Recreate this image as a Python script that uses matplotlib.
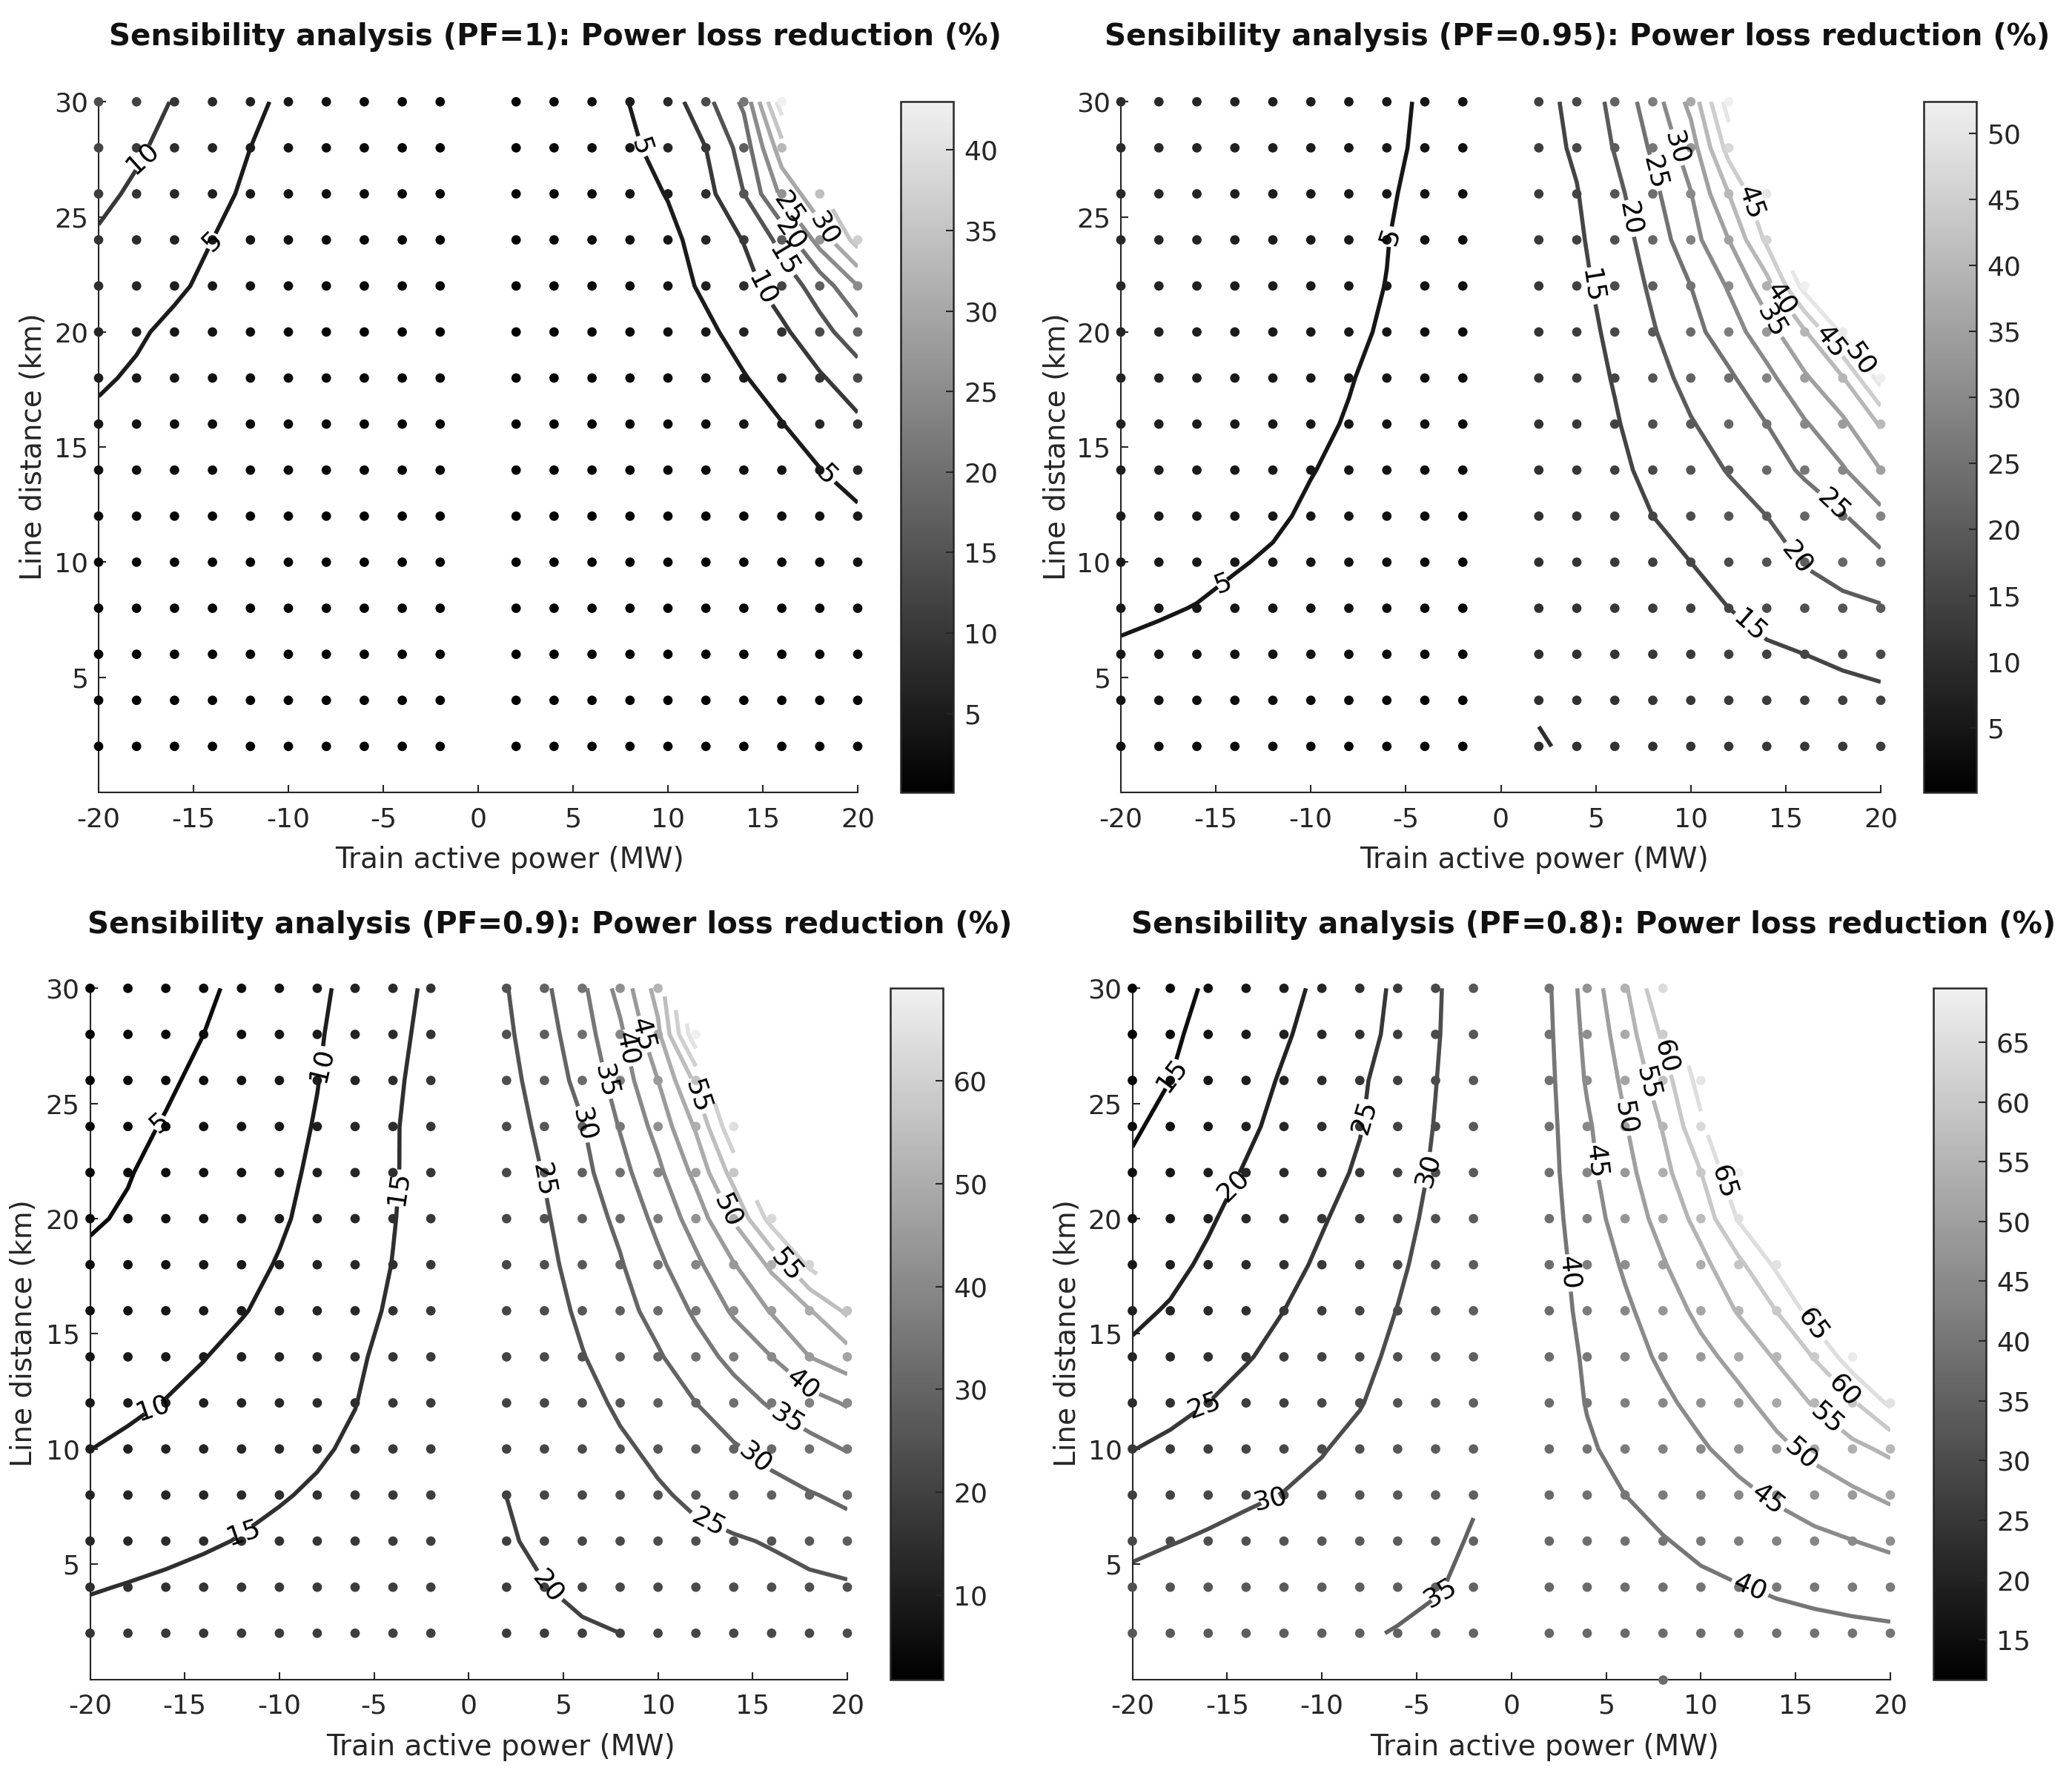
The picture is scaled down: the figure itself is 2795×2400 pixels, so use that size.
#!/usr/bin/env python3
"""
Sensibility analysis plots: power loss reduction (%) vs train power and line distance
for four power factors. Contours + sampled grid points, grey colormap.
"""

import numpy as np
import matplotlib
matplotlib.use('Agg')
import matplotlib.pyplot as plt
from matplotlib.colors import LinearSegmentedColormap, Normalize
from matplotlib.cm import ScalarMappable

nan = np.nan

# sweep grid (x = 0 is not simulated)
x_left = [-20, -18, -16, -14, -12, -10, -8, -6, -4, -2]
x_right = [2, 4, 6, 8, 10, 12, 14, 16, 18, 20]
distance = [2, 4, 6, 8, 10, 12, 14, 16, 18, 20, 22, 24, 26, 28, 30]

# rows follow `distance`, columns follow x_left / x_right
pf1_left = [
    [0.2, 0.1, 0.1, 0.1, 0.1, 0.1, 0.1, 0.1, 0.1, 0.1],
    [0.4, 0.3, 0.3, 0.2, 0.2, 0.1, 0.1, 0.1, 0.1, 0.1],
    [0.7, 0.6, 0.5, 0.4, 0.3, 0.2, 0.2, 0.1, 0.1, 0.1],
    [1.2, 1.0, 0.8, 0.6, 0.5, 0.4, 0.3, 0.2, 0.1, 0.1],
    [1.8, 1.5, 1.2, 0.9, 0.7, 0.5, 0.4, 0.3, 0.2, 0.1],
    [2.5, 2.1, 1.7, 1.3, 1.0, 0.7, 0.5, 0.4, 0.2, 0.1],
    [3.4, 2.9, 2.3, 1.8, 1.4, 1.0, 0.7, 0.5, 0.3, 0.2],
    [4.4, 3.7, 3.0, 2.4, 1.8, 1.3, 0.9, 0.6, 0.4, 0.2],
    [5.4, 4.6, 3.8, 3.0, 2.3, 1.7, 1.2, 0.8, 0.5, 0.3],
    [6.8, 5.4, 4.3, 3.4, 2.7, 2.0, 1.4, 0.9, 0.6, 0.3],
    [8.2, 6.8, 5.5, 4.3, 3.3, 2.4, 1.7, 1.1, 0.7, 0.4],
    [9.5, 8.0, 6.4, 5.0, 3.8, 2.8, 1.9, 1.3, 0.8, 0.4],
    [11.0, 9.3, 7.5, 5.9, 4.4, 3.2, 2.2, 1.5, 1.0, 0.5],
    [12.5, 10.6, 8.6, 6.8, 5.0, 3.6, 2.5, 1.7, 1.1, 0.6],
    [14.0, 12.0, 9.7, 7.8, 5.8, 4.2, 3.0, 2.0, 1.3, 0.7],
]
pf1_right = [
    [0.1, 0.1, 0.1, 0.1, 0.1, 0.1, 0.1, 0.2, 0.2, 0.3],
    [0.1, 0.1, 0.1, 0.1, 0.2, 0.2, 0.3, 0.4, 0.5, 0.6],
    [0.1, 0.1, 0.1, 0.2, 0.3, 0.4, 0.5, 0.6, 0.8, 1.1],
    [0.1, 0.1, 0.2, 0.3, 0.4, 0.6, 0.8, 1.1, 1.4, 1.8],
    [0.1, 0.2, 0.3, 0.5, 0.7, 0.9, 1.3, 1.7, 2.2, 2.8],
    [0.2, 0.3, 0.5, 0.7, 1.0, 1.4, 1.9, 2.6, 3.4, 4.3],
    [0.2, 0.4, 0.7, 1.0, 1.4, 2.0, 2.7, 3.6, 4.9, 6.7],
    [0.3, 0.6, 0.9, 1.3, 1.9, 2.6, 3.6, 4.9, 6.8, 9.0],
    [0.4, 0.7, 1.1, 1.7, 2.4, 3.4, 4.8, 6.6, 9.4, 13.0],
    [0.5, 0.9, 1.4, 2.1, 3.0, 4.3, 6.3, 9.0, 13.5, 17.5],
    [0.6, 1.1, 1.7, 2.5, 3.6, 5.6, 8.2, 12.5, 17.0, 25.0],
    [0.7, 1.3, 2.0, 3.0, 4.0, 6.6, 10.2, 16.5, 27.0, 37.0],
    [0.8, 1.4, 2.2, 3.4, 5.2, 8.3, 15.0, 26.0, 34.0, nan],
    [0.9, 1.5, 2.6, 4.2, 6.8, 10.0, 17.0, 33.0, nan, nan],
    [1.0, 1.6, 3.0, 5.1, 7.4, 13.5, 21.0, 43.0, nan, nan],
]

pf095_left = [
    [3.5, 3.2, 2.9, 2.6, 2.3, 1.9, 1.5, 1.1, 0.6, 0.1],
    [4.2, 3.9, 3.6, 3.3, 3.0, 2.7, 2.3, 1.8, 1.2, 0.5],
    [4.8, 4.6, 4.4, 4.2, 4.0, 3.7, 3.4, 3.0, 2.3, 0.9],
    [5.3, 5.15, 4.95, 4.7, 4.5, 4.2, 3.8, 3.3, 2.6, 1.3],
    [5.9, 5.6, 5.4, 5.1, 4.85, 4.5, 4.1, 3.6, 2.8, 1.6],
    [6.4, 6.0, 5.6, 5.4, 5.2, 4.8, 4.4, 3.9, 3.1, 1.9],
    [6.8, 6.3, 5.9, 5.5, 5.25, 5.05, 4.7, 4.2, 3.3, 2.2],
    [7.2, 6.7, 6.2, 5.8, 5.5, 5.3, 4.9, 4.4, 3.5, 2.4],
    [7.6, 7.1, 6.5, 6.0, 5.6, 5.3, 5.08, 4.6, 3.7, 2.6],
    [8.0, 7.5, 6.9, 6.3, 5.8, 5.5, 5.25, 4.85, 3.9, 2.8],
    [8.3, 7.8, 7.2, 6.6, 6.1, 5.7, 5.4, 4.97, 4.1, 3.0],
    [8.6, 8.1, 7.5, 6.9, 6.3, 5.7, 5.3, 5.05, 4.3, 3.2],
    [8.9, 8.4, 7.8, 7.2, 6.5, 5.9, 5.4, 5.2, 4.5, 3.4],
    [9.2, 8.7, 8.1, 7.5, 6.8, 6.1, 5.6, 5.3, 4.75, 3.6],
    [9.5, 9.0, 8.4, 7.8, 7.1, 6.4, 5.7, 5.4, 4.8, 3.8],
]
pf095_right = [
    [9.7, 10.6, 10.8, 11.1, 11.4, 11.8, 12.1, 12.4, 12.7, 13.0],
    [10.4, 10.6, 11.1, 11.6, 12.1, 12.6, 13.1, 13.5, 13.9, 14.2],
    [10.4, 10.7, 11.6, 12.4, 13.1, 13.8, 14.4, 15.0, 15.6, 16.2],
    [10.4, 10.9, 12.1, 13.2, 14.1, 15.0, 16.3, 17.5, 18.6, 19.6],
    [10.5, 11.2, 12.7, 13.9, 15.0, 16.3, 18.0, 20.3, 22.3, 23.5],
    [10.6, 11.5, 13.3, 15.0, 16.8, 18.5, 20.0, 22.0, 24.6, 28.5],
    [10.7, 11.9, 13.9, 16.2, 18.4, 20.2, 22.6, 25.8, 29.5, 35.0],
    [10.9, 12.3, 14.6, 17.3, 19.7, 22.0, 25.0, 29.5, 34.0, 40.5],
    [11.2, 12.8, 15.3, 18.3, 21.4, 24.2, 28.5, 34.3, 39.7, 52.0],
    [11.5, 13.3, 16.0, 19.6, 23.4, 27.5, 33.0, 39.5, 51.0, nan],
    [11.9, 13.8, 16.8, 20.8, 25.0, 30.5, 38.0, 52.0, nan, nan],
    [12.4, 14.3, 17.6, 22.2, 28.0, 35.0, 46.0, nan, nan, nan],
    [12.9, 14.8, 18.6, 23.8, 29.8, 40.0, 50.0, nan, nan, nan],
    [13.4, 15.6, 20.3, 25.7, 32.5, 47.0, nan, nan, nan, nan],
    [13.8, 16.0, 21.5, 27.5, 36.5, 52.4, nan, nan, nan, nan],
]

pf09_left = [
    [16.5, 16.9, 17.3, 17.7, 18.1, 18.5, 18.9, 19.2, 19.5, 19.8],
    [14.7, 15.2, 15.7, 16.3, 16.9, 17.5, 18.1, 18.7, 19.2, 19.6],
    [12.8, 13.3, 13.9, 14.5, 15.2, 15.9, 16.7, 17.5, 18.5, 19.3],
    [11.3, 11.9, 12.5, 13.2, 13.9, 14.7, 15.5, 16.5, 17.8, 19.0],
    [9.97, 10.6, 11.3, 12.0, 12.8, 13.6, 14.5, 15.6, 17.4, 18.8],
    [8.8, 9.4, 10.1, 10.9, 11.8, 12.8, 13.9, 14.9, 16.8, 18.5],
    [7.6, 8.3, 9.1, 9.9, 10.9, 11.9, 13.0, 14.4, 16.2, 18.2],
    [6.5, 7.2, 8.0, 8.8, 9.8, 10.9, 12.1, 13.6, 15.6, 17.9],
    [5.5, 6.2, 7.0, 7.9, 9.1, 10.2, 11.3, 13.0, 15.1, 17.5],
    [4.7, 5.3, 6.3, 7.3, 8.4, 9.6, 10.9, 12.6, 14.8, 17.2],
    [4.0, 4.85, 5.8, 6.8, 7.9, 9.3, 10.5, 12.3, 14.6, 17.0],
    [3.4, 4.3, 5.2, 6.2, 7.3, 8.7, 10.25, 12.4, 14.6, 16.9],
    [2.8, 3.7, 4.6, 5.6, 6.8, 8.2, 9.9, 12.0, 14.3, 16.6],
    [2.3, 3.1, 4.0, 5.0, 6.2, 7.7, 9.6, 11.7, 13.9, 16.2],
    [1.8, 2.6, 3.5, 4.6, 5.5, 7.2, 9.2, 11.3, 13.5, 15.8],
]
pf09_right = [
    [18.3, 18.9, 19.5, 20.0, 20.6, 21.1, 21.6, 22.0, 22.4, 22.8],
    [19.0, 19.9, 20.9, 21.5, 22.1, 22.6, 23.1, 23.6, 24.0, 24.4],
    [19.6, 20.8, 21.7, 22.5, 23.3, 24.1, 24.6, 25.3, 26.6, 28.0],
    [20.02, 21.1, 22.2, 23.3, 24.5, 25.8, 27.1, 28.4, 29.7, 30.9],
    [20.3, 21.6, 22.9, 24.3, 25.9, 27.6, 29.5, 31.4, 33.3, 35.3],
    [20.6, 22.0, 23.6, 25.7, 27.9, 30.0, 32.8, 35.6, 38.0, 40.5],
    [20.9, 22.6, 24.8, 27.1, 29.5, 32.9, 36.4, 40.0, 45.0, 47.7],
    [21.2, 23.2, 25.8, 28.4, 31.6, 35.75, 40.7, 45.4, 49.6, 56.0],
    [21.6, 23.9, 26.7, 29.6, 33.9, 38.9, 44.7, 51.0, 61.0, nan],
    [22.0, 24.5, 27.6, 31.1, 36.4, 42.3, 50.5, 62.0, nan, nan],
    [22.4, 25.2, 28.6, 33.3, 38.9, 46.3, 57.0, nan, nan, nan],
    [22.9, 26.1, 29.7, 35.3, 41.7, 50.6, 64.0, nan, nan, nan],
    [23.5, 27.2, 31.5, 37.1, 45.0, 56.0, nan, nan, nan, nan],
    [24.2, 28.1, 32.8, 39.0, 48.9, 69.0, nan, nan, nan, nan],
    [24.8, 29.1, 34.0, 41.7, 52.0, nan, nan, nan, nan, nan],
]

pf08_left = [
    [33.0, 33.4, 33.8, 34.1, 34.4, 34.6, 34.8, 35.1, 35.5, 36.0],
    [31.2, 31.9, 32.5, 33.1, 33.6, 34.0, 34.3, 34.5, 34.85, 35.5],
    [29.0, 29.8, 30.5, 31.2, 31.9, 32.6, 33.3, 33.9, 34.4, 35.2],
    [26.9, 27.8, 28.6, 29.4, 30.1, 30.9, 31.9, 33.0, 34.2, 34.8],
    [24.9, 26.0, 27.0, 28.0, 28.9, 29.8, 31.0, 32.4, 33.9, 34.9],
    [22.3, 23.6, 25.0, 26.4, 27.6, 28.8, 29.8, 31.6, 33.4, 34.9],
    [20.6, 21.6, 23.1, 24.7, 26.2, 27.6, 29.0, 30.8, 32.9, 34.8],
    [19.3, 20.3, 21.8, 23.3, 25.0, 26.6, 28.2, 30.1, 32.3, 34.6],
    [17.7, 19.1, 20.6, 22.2, 23.9, 25.6, 27.3, 29.3, 31.7, 34.2],
    [16.6, 18.0, 19.6, 21.3, 23.0, 24.7, 26.4, 28.6, 31.1, 33.9],
    [15.5, 16.9, 18.5, 20.3, 22.0, 23.7, 25.5, 27.8, 30.6, 33.6],
    [14.6, 15.9, 17.6, 19.3, 21.1, 22.9, 24.8, 27.3, 30.2, 33.3],
    [13.6, 15.0, 16.7, 18.6, 20.4, 22.3, 24.4, 27.0, 29.9, 33.0],
    [12.6, 14.4, 16.1, 17.8, 19.6, 21.4, 23.5, 26.2, 29.6, 32.8],
    [11.7, 13.6, 15.5, 17.0, 18.9, 20.8, 22.9, 25.9, 29.5, 32.5],
]
pf08_right = [
    [36.2, 36.7, 37.2, 37.7, 38.1, 38.5, 38.8, 39.1, 39.3, 39.5],
    [36.5, 37.3, 38.0, 38.7, 39.3, 39.85, 40.4, 40.8, 41.2, 41.5],
    [36.8, 37.9, 39.0, 39.8, 40.8, 41.8, 42.9, 43.9, 44.9, 46.2],
    [37.0, 38.6, 40.0, 41.3, 42.5, 44.0, 45.6, 47.3, 49.1, 51.0],
    [37.3, 39.5, 41.2, 42.8, 44.5, 46.5, 48.8, 51.3, 53.8, 56.0],
    [37.5, 40.2, 42.2, 44.2, 46.3, 48.7, 51.9, 55.5, 59.3, 66.0],
    [37.7, 40.6, 43.3, 45.7, 48.6, 51.7, 55.5, 60.3, 68.0, nan],
    [37.9, 41.3, 44.2, 47.4, 51.3, 55.4, 60.1, 67.5, nan, nan],
    [38.1, 41.9, 45.6, 49.6, 53.6, 58.8, 66.0, nan, nan, nan],
    [38.4, 42.7, 47.4, 51.6, 56.7, 65.5, nan, nan, nan, nan],
    [38.6, 43.7, 48.5, 53.5, 59.9, 69.5, nan, nan, nan, nan],
    [38.8, 44.3, 49.7, 55.3, 64.0, nan, nan, nan, nan, nan],
    [39.0, 45.5, 51.0, 57.7, 67.0, nan, nan, nan, nan, nan],
    [39.3, 46.2, 52.5, 60.8, nan, nan, nan, nan, nan, nan],
    [39.6, 46.9, 54.3, 64.5, nan, nan, nan, nan, nan, nan],
]
# one extra sample that sits on the x axis in the PF=0.8 run
pf08_extra_x = [8]
pf08_extra_y = [0]
pf08_extra_val = [37.5]

pf_names = ['1', '0.95', '0.9', '0.8']
cbar_ticks = [
    [5, 10, 15, 20, 25, 30, 35, 40],
    [5, 10, 15, 20, 25, 30, 35, 40, 45, 50],
    [10, 20, 30, 40, 50, 60],
    [15, 20, 25, 30, 35, 40, 45, 50, 55, 60, 65],
]
levels = np.arange(5, 70, 5)

# where clabel puts the numbers (data coords)
label_pos = [
    ([(-17.67, 27.55), (-14.0, 23.9)],
     [(8.8, 28.1), (15.0, 21.9), (16.2, 23.2), (16.56, 24.3), (16.4, 25.4),
      (18.25, 24.5), (18.3, 13.75)]),
    ([(-5.45, 23.9), (-14.7, 9.3)],
     [(9.19, 28.0), (8.03, 26.9), (6.6, 24.9), (4.35, 21.95), (13.1, 25.6),
      (14.9, 21.5), (14.2, 20.45), (17.2, 19.5), (18.9, 18.8), (17.4, 12.4),
      (15.6, 10.2), (13.18, 7.3)]),
    ([(-16.2, 23.9), (-16.7, 11.95), (-7.8, 26.7), (-11.9, 6.4), (-3.6, 21.3)],
     [(4.06, 3.95), (12.6, 6.73), (3.96, 21.7), (6.07, 24.1), (15.1, 9.6),
      (7.3, 26.0), (16.9, 11.4), (8.34, 27.4), (17.85, 13.0), (9.19, 28.0),
      (13.93, 20.45), (11.98, 25.3), (16.8, 18.0)]),
    ([(-17.9, 26.2), (-14.6, 21.3), (-16.5, 13.3), (-7.55, 24.3), (-12.7, 7.5),
      (-4.4, 22.1), (-3.77, 3.73)],
     [(2.46, 17.6), (4.69, 22.5), (6.05, 24.4), (7.16, 25.9), (8.0, 27.0),
      (11.25, 21.6), (15.8, 15.3), (17.5, 12.5), (16.6, 11.3), (15.3, 9.8),
      (13.5, 7.8), (12.55, 3.9)]),
]

W, H = 2795, 2400
DPI = 200
AX_COLOR = '#262626'

# pixel layout: axes box, colorbar box, title centre, xlabel centre, ylabel centre
layout = [
    dict(ax=(133, 137.3, 1157, 1069), cb=(1215, 137.3, 1286, 1069),
         title=(749, 50), xlab=(688, 1160), ylab=(44.6, 602.5)),
    dict(ax=(1512, 137.3, 2537, 1069), cb=(2595, 137.3, 2666, 1069),
         title=(2128, 50), xlab=(2069.5, 1160), ylab=(1426, 602.5)),
    dict(ax=(121.5, 1333.3, 1143, 2265.5), cb=(1201, 1333.3, 1272, 2265.5),
         title=(741.5, 1248), xlab=(675.6, 2356.5), ylab=(32, 1798.5)),
    dict(ax=(1527.5, 1333.3, 2550, 2265.5), cb=(2608, 1333.3, 2679, 2265.5),
         title=(2150, 1248), xlab=(2083.7, 2356.5), ylab=(1440, 1798.5)),
]


def rect(box):
    x0, y0, x1, y1 = box
    return [x0 / W, 1 - y1 / H, (x1 - x0) / W, (y1 - y0) / H]


def fig_xy(p):
    return p[0] / W, 1 - p[1] / H


def plot_panel(fig, idx, left, right, extra=None):
    lay = layout[idx]
    ax = fig.add_axes(rect(lay['ax']))
    zl = np.array(left, dtype=float)
    zr = np.array(right, dtype=float)
    vals = np.concatenate([zl[np.isfinite(zl)], zr[np.isfinite(zr)]])
    norm = Normalize(vmin=vals.min(), vmax=vals.max())

    for xs, z, lab in ((x_left, zl, label_pos[idx][0]), (x_right, zr, label_pos[idx][1])):
        X, Y = np.meshgrid(xs, distance)
        zm = np.ma.masked_invalid(z)
        lv = [l for l in levels if zm.min() < l < zm.max()]
        cs = ax.contour(X, Y, zm, levels=lv, cmap=cmap, norm=norm, linewidths=2.0, zorder=2)
        ax.clabel(cs, manual=lab, inline=True, inline_spacing=4, fmt='%d',
                  fontsize=13, colors='k')
        ok = np.isfinite(z)
        ax.scatter(X[ok], Y[ok], c=z[ok], cmap=cmap, norm=norm, s=21,
                   linewidths=0, clip_on=False, zorder=3)

    if extra is not None:
        ax.scatter(extra[0], extra[1], c=extra[2], cmap=cmap, norm=norm, s=21,
                   linewidths=0, clip_on=False, zorder=3)

    ax.set_xlim(-20, 20)
    ax.set_ylim(0, 30)
    ax.set_xticks([-20, -15, -10, -5, 0, 5, 10, 15, 20])
    ax.set_yticks([5, 10, 15, 20, 25, 30])
    ax.spines['top'].set_visible(False)
    ax.spines['right'].set_visible(False)
    for s in ('left', 'bottom'):
        ax.spines[s].set_color(AX_COLOR)
        ax.spines[s].set_linewidth(0.75)
    ax.tick_params(direction='in', length=3.6, width=0.75, colors=AX_COLOR, labelsize=13)
    ax.tick_params(axis='x', pad=7)
    ax.tick_params(axis='y', pad=5)

    ax.set_xlabel('Train active power (MW)', fontsize=14, color=AX_COLOR)
    ax.xaxis.set_label_coords(*fig_xy(lay['xlab']), transform=fig.transFigure)
    ax.xaxis.label.set_verticalalignment('center')
    ax.set_ylabel('Line distance (km)', fontsize=14, color=AX_COLOR)
    ax.yaxis.set_label_coords(*fig_xy(lay['ylab']), transform=fig.transFigure)
    ax.yaxis.label.set_verticalalignment('center')

    tx, ty = fig_xy(lay['title'])
    fig.text(tx, ty, f'Sensibility analysis (PF={pf_names[idx]}): Power loss reduction (%)',
             ha='center', va='center', fontsize=14.5, fontweight='bold', color='#111111')

    cax = fig.add_axes(rect(lay['cb']))
    cb = fig.colorbar(ScalarMappable(norm=norm, cmap=cmap), cax=cax, ticks=cbar_ticks[idx])
    cb.outline.set_linewidth(0.9)
    cb.outline.set_edgecolor(AX_COLOR)
    cax.tick_params(direction='in', length=3.6, width=0.75, colors=AX_COLOR,
                    labelsize=13, pad=5)


plt.rcParams['font.family'] = 'DejaVu Sans'
plt.rcParams['axes.unicode_minus'] = False
cmap = LinearSegmentedColormap.from_list('grey_map', ['#000000', '#f0f0f0'])

fig = plt.figure(figsize=(W / DPI, H / DPI), dpi=DPI)
plot_panel(fig, 0, pf1_left, pf1_right)
plot_panel(fig, 1, pf095_left, pf095_right)
plot_panel(fig, 2, pf09_left, pf09_right)
plot_panel(fig, 3, pf08_left, pf08_right, (pf08_extra_x, pf08_extra_y, pf08_extra_val))
fig.savefig('out.png', dpi=DPI)
